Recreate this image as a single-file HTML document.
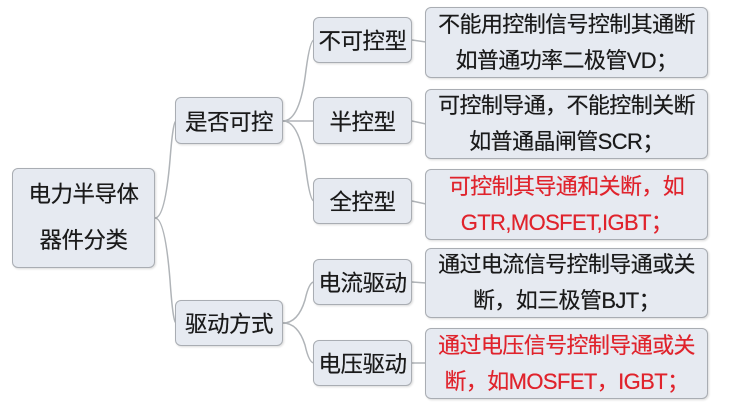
<!DOCTYPE html>
<html><head><meta charset="utf-8"><style>
body{margin:0;width:731px;height:403px;background:#fff;position:relative;overflow:hidden;font-family:"Liberation Sans","Noto Sans CJK SC",sans-serif;}
.b{position:absolute;box-sizing:border-box;background:#e6eaf1;border:1.5px solid #a9adb3;border-radius:6px;display:flex;align-items:center;justify-content:center;text-align:center;color:#1a1a1a;box-shadow:1px 1px 2px rgba(0,0,0,.15);white-space:nowrap;text-shadow:0 0 0.4px #1a1a1a;}
.m{font-size:22.5px;letter-spacing:-0.5px;}
.r{font-size:22px;line-height:36px;letter-spacing:-0.6px;}
.red{color:#e0232c;text-shadow:0 0 0.4px #e0232c;}
svg{position:absolute;left:0;top:0;}
</style></head><body>
<svg width="731" height="403"><g stroke="#b0b4b8" stroke-width="1.5" fill="none">
<path d="M155 218 Q165 218 170 160 Q173 121 176 121"/>
<path d="M155 218 Q165 218 170 280 Q173 323 176 323"/>
<path d="M283 121 Q300 121 306 70 Q310 40 314 40"/>
<path d="M283 121 L314 121"/>
<path d="M283 121 Q300 121 306 170 Q310 201 314 201"/>
<path d="M283 323 Q298 323 305 300 Q309 282 314 282"/>
<path d="M283 323 Q298 323 305 345 Q309 363 314 363"/>
<path d="M412 40 L426 42"/><path d="M412 121 L426 124"/><path d="M412 201 L426 204"/><path d="M412 282 L426 283"/><path d="M412 363 L426 363"/>
</g></svg>
<div class="b m" style="left:12px;top:168px;width:143px;height:100px;line-height:46px;">电力半导体<br>器件分类</div>
<div class="b m" style="left:175px;top:97px;width:108px;height:47px;">是否可控</div>
<div class="b m" style="left:175px;top:300px;width:108px;height:46px;">驱动方式</div>
<div class="b m" style="left:313px;top:17px;width:99px;height:46px;">不可控型</div>
<div class="b m" style="left:313px;top:97px;width:99px;height:47px;">半控型</div>
<div class="b m" style="left:313px;top:178px;width:99px;height:46px;">全控型</div>
<div class="b m" style="left:313px;top:259px;width:99px;height:46px;">电流驱动</div>
<div class="b m" style="left:313px;top:340px;width:99px;height:46px;">电压驱动</div>
<div class="b r" style="left:425px;top:7px;width:283px;height:71px;">不能用控制信号控制其通断<br>如普通功率二极管VD；</div>
<div class="b r" style="left:425px;top:89px;width:283px;height:70px;">可控制导通，不能控制关断<br>如普通晶闸管SCR；</div>
<div class="b r red" style="left:425px;top:169px;width:283px;height:71px;">可控制其导通和关断，如<br>GTR,MOSFET,IGBT；</div>
<div class="b r" style="left:425px;top:248px;width:283px;height:70px;">通过电流信号控制导通或关<br>断，如三极管BJT；</div>
<div class="b r red" style="left:425px;top:328px;width:283px;height:71px;">通过电压信号控制导通或关<br>断，如MOSFET，IGBT；</div>
</body></html>
